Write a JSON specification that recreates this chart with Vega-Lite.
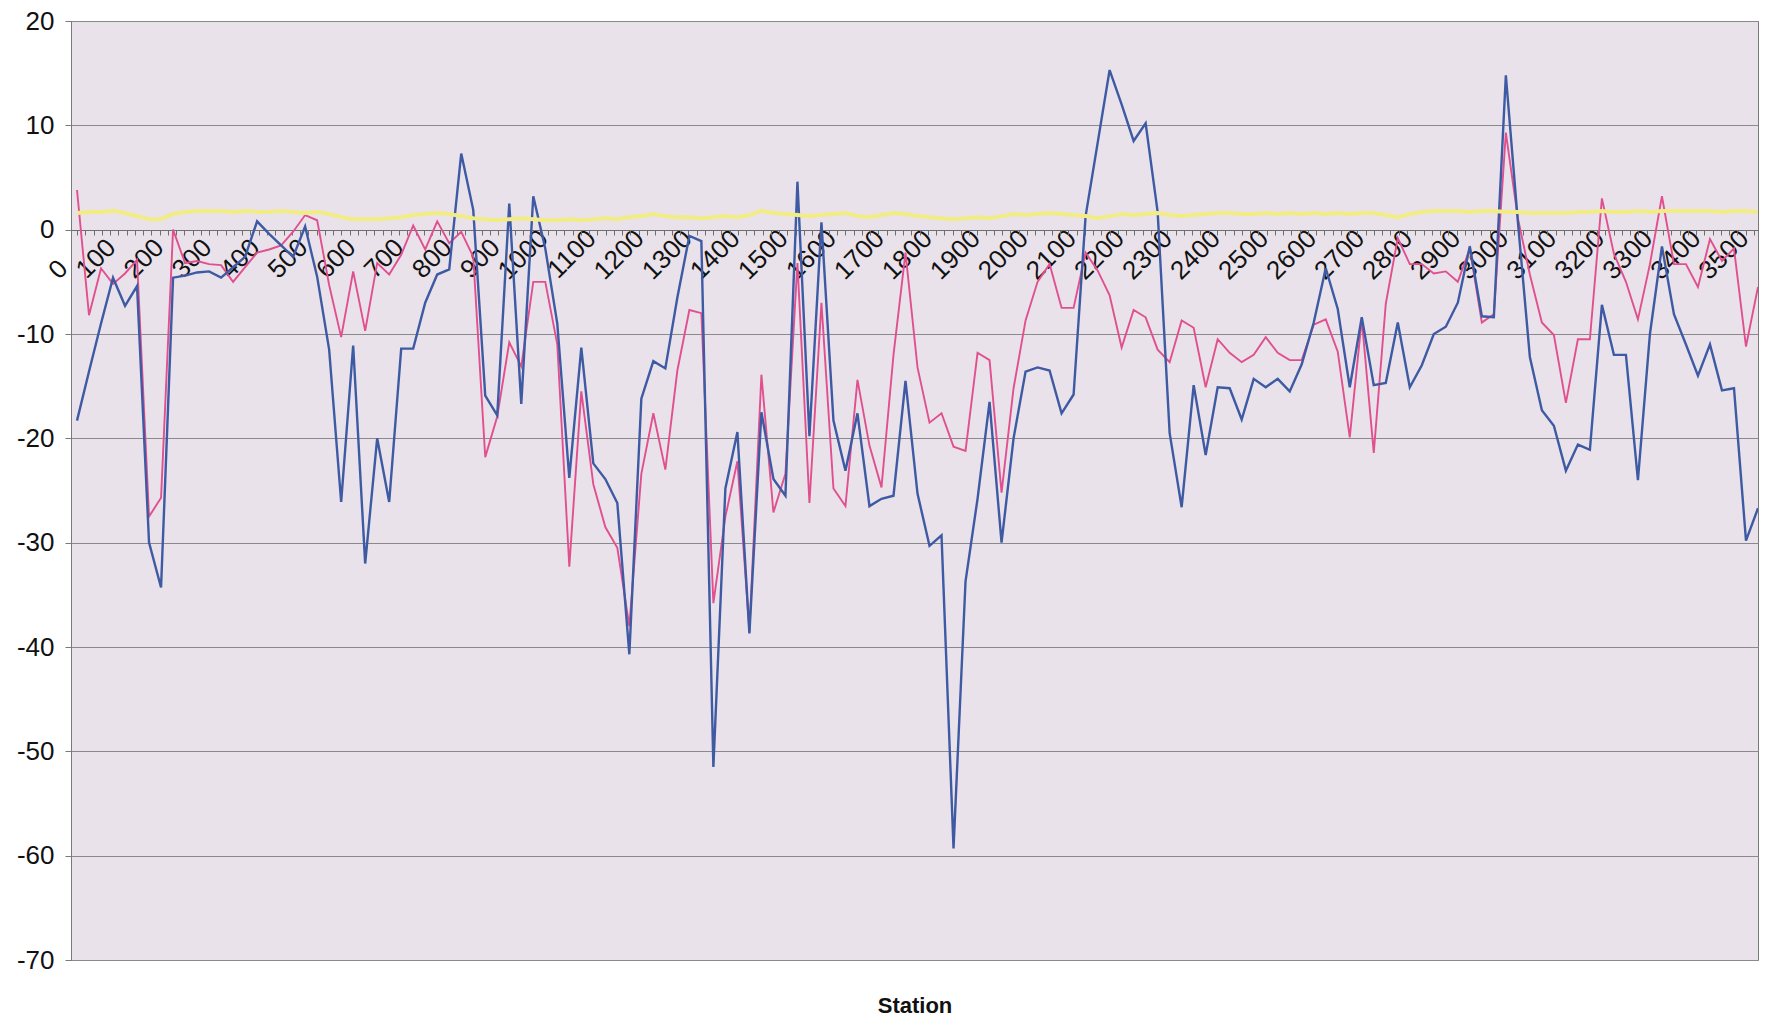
{
  "$schema": "https://vega.github.io/schema/vega-lite/v6.json",
  "width": 1687,
  "height": 939,
  "autosize": {"type": "none"},
  "padding": {"left": 71, "top": 21, "right": 9, "bottom": 62},
  "background": "white",
  "config": {
    "view": {"stroke": "#7a7a7a", "strokeWidth": 1, "fill": "#E9E2EB"},
    "font": "Liberation Sans"
  },
  "data": {"values": [
    {"s":12.5,"b":-18.3,"p":3.8,"y":1.6},{"s":37.5,"b":-13.6,"p":-8.2,"y":1.7},{"s":62.5,"b":-9.0,"p":-3.7,"y":1.7},{"s":87.5,"b":-4.6,"p":-5.2,"y":1.8},
    {"s":112.5,"b":-7.3,"p":-4.2,"y":1.6},{"s":137.5,"b":-5.4,"p":-2.9,"y":1.3},{"s":162.5,"b":-30.0,"p":-27.5,"y":1.0},{"s":187.5,"b":-34.3,"p":-25.7,"y":1.0},
    {"s":212.5,"b":-4.6,"p":0.0,"y":1.5},{"s":237.5,"b":-4.4,"p":-3.2,"y":1.7},{"s":262.5,"b":-4.1,"p":-3.0,"y":1.8},{"s":287.5,"b":-4.0,"p":-3.3,"y":1.8},
    {"s":312.5,"b":-4.6,"p":-3.4,"y":1.8},{"s":337.5,"b":-3.6,"p":-5.0,"y":1.7},{"s":362.5,"b":-2.6,"p":-3.6,"y":1.8},{"s":387.5,"b":0.8,"p":-2.2,"y":1.7},
    {"s":412.5,"b":-0.4,"p":-1.9,"y":1.7},{"s":437.5,"b":-1.5,"p":-1.5,"y":1.8},{"s":462.5,"b":-2.6,"p":-0.2,"y":1.7},{"s":487.5,"b":0.3,"p":1.4,"y":1.6},
    {"s":512.5,"b":-4.5,"p":0.9,"y":1.7},{"s":537.5,"b":-11.5,"p":-5.3,"y":1.5},{"s":562.5,"b":-26.1,"p":-10.3,"y":1.2},{"s":587.5,"b":-11.1,"p":-4.0,"y":1.0},
    {"s":612.5,"b":-32.0,"p":-9.7,"y":1.0},{"s":637.5,"b":-20.0,"p":-3.2,"y":1.0},{"s":662.5,"b":-26.1,"p":-4.3,"y":1.1},{"s":687.5,"b":-11.4,"p":-2.4,"y":1.2},
    {"s":712.5,"b":-11.4,"p":0.4,"y":1.4},{"s":737.5,"b":-7.0,"p":-1.9,"y":1.5},{"s":762.5,"b":-4.3,"p":0.8,"y":1.6},{"s":787.5,"b":-3.8,"p":-1.3,"y":1.5},
    {"s":812.5,"b":7.3,"p":-0.2,"y":1.3},{"s":837.5,"b":1.9,"p":-2.6,"y":1.1},{"s":862.5,"b":-15.9,"p":-21.8,"y":1.0},{"s":887.5,"b":-17.8,"p":-17.9,"y":0.9},
    {"s":912.5,"b":2.5,"p":-10.8,"y":1.0},{"s":937.5,"b":-16.7,"p":-13.1,"y":1.1},{"s":962.5,"b":3.2,"p":-5.0,"y":1.0},{"s":987.5,"b":-1.8,"p":-5.0,"y":0.9},
    {"s":1012.5,"b":-9.0,"p":-11.0,"y":0.9},{"s":1037.5,"b":-23.8,"p":-32.3,"y":1.0},{"s":1062.5,"b":-11.3,"p":-15.5,"y":0.9},{"s":1087.5,"b":-22.4,"p":-24.4,"y":1.0},
    {"s":1112.5,"b":-23.9,"p":-28.5,"y":1.1},{"s":1137.5,"b":-26.2,"p":-30.5,"y":1.0},{"s":1162.5,"b":-40.7,"p":-38.0,"y":1.2},{"s":1187.5,"b":-16.2,"p":-23.4,"y":1.3},
    {"s":1212.5,"b":-12.6,"p":-17.6,"y":1.5},{"s":1237.5,"b":-13.3,"p":-23.0,"y":1.3},{"s":1262.5,"b":-6.5,"p":-13.5,"y":1.2},{"s":1287.5,"b":-0.6,"p":-7.7,"y":1.2},
    {"s":1312.5,"b":-1.1,"p":-8.0,"y":1.1},{"s":1337.5,"b":-51.5,"p":-35.8,"y":1.2},{"s":1362.5,"b":-24.8,"p":-27.5,"y":1.3},{"s":1387.5,"b":-19.4,"p":-22.2,"y":1.2},
    {"s":1412.5,"b":-38.7,"p":-38.5,"y":1.4},{"s":1437.5,"b":-17.5,"p":-13.9,"y":1.8},{"s":1462.5,"b":-23.9,"p":-27.1,"y":1.6},{"s":1487.5,"b":-25.5,"p":-23.4,"y":1.5},
    {"s":1512.5,"b":4.6,"p":-3.2,"y":1.4},{"s":1537.5,"b":-19.8,"p":-26.2,"y":1.3},{"s":1562.5,"b":0.7,"p":-7.0,"y":1.4},{"s":1587.5,"b":-18.3,"p":-24.8,"y":1.5},
    {"s":1612.5,"b":-23.1,"p":-26.5,"y":1.6},{"s":1637.5,"b":-17.6,"p":-14.4,"y":1.3},{"s":1662.5,"b":-26.5,"p":-20.7,"y":1.2},{"s":1687.5,"b":-25.8,"p":-24.7,"y":1.4},
    {"s":1712.5,"b":-25.5,"p":-12.0,"y":1.6},{"s":1737.5,"b":-14.5,"p":-2.2,"y":1.5},{"s":1762.5,"b":-25.3,"p":-13.2,"y":1.3},{"s":1787.5,"b":-30.3,"p":-18.5,"y":1.2},
    {"s":1812.5,"b":-29.3,"p":-17.6,"y":1.1},{"s":1837.5,"b":-59.3,"p":-20.8,"y":1.0},{"s":1862.5,"b":-33.7,"p":-21.2,"y":1.1},{"s":1887.5,"b":-25.8,"p":-11.8,"y":1.2},
    {"s":1912.5,"b":-16.5,"p":-12.5,"y":1.1},{"s":1937.5,"b":-30.0,"p":-25.2,"y":1.3},{"s":1962.5,"b":-20.0,"p":-15.2,"y":1.5},{"s":1987.5,"b":-13.6,"p":-8.7,"y":1.4},
    {"s":2012.5,"b":-13.2,"p":-5.0,"y":1.5},{"s":2037.5,"b":-13.5,"p":-3.3,"y":1.6},{"s":2062.5,"b":-17.6,"p":-7.5,"y":1.5},{"s":2087.5,"b":-15.8,"p":-7.5,"y":1.4},
    {"s":2112.5,"b":1.3,"p":-2.2,"y":1.3},{"s":2137.5,"b":8.3,"p":-3.9,"y":1.1},{"s":2162.5,"b":15.3,"p":-6.3,"y":1.3},{"s":2187.5,"b":12.0,"p":-11.3,"y":1.5},
    {"s":2212.5,"b":8.5,"p":-7.7,"y":1.4},{"s":2237.5,"b":10.2,"p":-8.4,"y":1.5},{"s":2262.5,"b":1.7,"p":-11.5,"y":1.6},{"s":2287.5,"b":-19.5,"p":-12.7,"y":1.4},
    {"s":2312.5,"b":-26.6,"p":-8.7,"y":1.3},{"s":2337.5,"b":-14.9,"p":-9.4,"y":1.4},{"s":2362.5,"b":-21.6,"p":-15.1,"y":1.5},{"s":2387.5,"b":-15.1,"p":-10.5,"y":1.6},
    {"s":2412.5,"b":-15.2,"p":-11.8,"y":1.6},{"s":2437.5,"b":-18.2,"p":-12.7,"y":1.5},{"s":2462.5,"b":-14.3,"p":-12.0,"y":1.5},{"s":2487.5,"b":-15.1,"p":-10.3,"y":1.6},
    {"s":2512.5,"b":-14.3,"p":-11.8,"y":1.5},{"s":2537.5,"b":-15.5,"p":-12.5,"y":1.6},{"s":2562.5,"b":-12.9,"p":-12.5,"y":1.5},{"s":2587.5,"b":-8.9,"p":-9.1,"y":1.6},
    {"s":2612.5,"b":-3.7,"p":-8.6,"y":1.5},{"s":2637.5,"b":-7.6,"p":-11.7,"y":1.6},{"s":2662.5,"b":-15.1,"p":-19.9,"y":1.5},{"s":2687.5,"b":-8.4,"p":-8.6,"y":1.6},
    {"s":2712.5,"b":-14.9,"p":-21.4,"y":1.6},{"s":2737.5,"b":-14.7,"p":-7.1,"y":1.4},{"s":2762.5,"b":-8.9,"p":-0.8,"y":1.2},{"s":2787.5,"b":-15.1,"p":-3.3,"y":1.5},
    {"s":2812.5,"b":-13.0,"p":-3.3,"y":1.7},{"s":2837.5,"b":-10.0,"p":-4.2,"y":1.8},{"s":2862.5,"b":-9.3,"p":-4.0,"y":1.8},{"s":2887.5,"b":-7.0,"p":-5.0,"y":1.8},
    {"s":2912.5,"b":-1.6,"p":-1.8,"y":1.7},{"s":2937.5,"b":-8.3,"p":-8.9,"y":1.8},{"s":2962.5,"b":-8.4,"p":-8.1,"y":1.8},{"s":2987.5,"b":14.8,"p":9.3,"y":1.7},
    {"s":3012.5,"b":0.8,"p":1.1,"y":1.7},{"s":3037.5,"b":-12.2,"p":-4.3,"y":1.6},{"s":3062.5,"b":-17.3,"p":-8.9,"y":1.6},{"s":3087.5,"b":-18.8,"p":-10.1,"y":1.6},
    {"s":3112.5,"b":-23.1,"p":-16.6,"y":1.6},{"s":3137.5,"b":-20.6,"p":-10.5,"y":1.7},{"s":3162.5,"b":-21.1,"p":-10.5,"y":1.7},{"s":3187.5,"b":-7.2,"p":3.0,"y":1.8},
    {"s":3212.5,"b":-12.0,"p":-2.3,"y":1.7},{"s":3237.5,"b":-12.0,"p":-5.0,"y":1.7},{"s":3262.5,"b":-24.0,"p":-8.6,"y":1.8},{"s":3287.5,"b":-10.0,"p":-3.3,"y":1.7},
    {"s":3312.5,"b":-1.6,"p":3.2,"y":1.8},{"s":3337.5,"b":-8.1,"p":-3.3,"y":1.8},{"s":3362.5,"b":-11.0,"p":-3.3,"y":1.8},{"s":3387.5,"b":-14.0,"p":-5.5,"y":1.8},
    {"s":3412.5,"b":-11.0,"p":-0.9,"y":1.8},{"s":3437.5,"b":-15.4,"p":-3.0,"y":1.7},{"s":3462.5,"b":-15.2,"p":-1.8,"y":1.8},{"s":3487.5,"b":-29.8,"p":-11.2,"y":1.8},
    {"s":3512.5,"b":-26.7,"p":-5.5,"y":1.7}
  ]},
  "layer": [
    {
      "transform": [{"fold": ["p", "b"], "as": ["series", "val"]}],
      "mark": {"type": "line", "clip": true},
      "encoding": {
        "x": {
          "field": "s", "type": "quantitative",
          "scale": {"domain": [0, 3512.5], "nice": false, "zero": false},
          "axis": {
            "orient": "bottom", "offset": -730,
            "values": [0,100,200,300,400,500,600,700,800,900,1000,1100,1200,1300,1400,1500,1600,1700,1800,1900,2000,2100,2200,2300,2400,2500,2600,2700,2800,2900,3000,3100,3200,3300,3400,3500],
            "labelExpr": "datum.value + ''",
            "labelAngle": -45, "labelAlign": "right", "labelBaseline": "middle",
            "labelFontSize": 26, "labelColor": "#111111",
            "labelPadding": {"condition": [{"test": "datum.value < 50", "value": 34}, {"test": "datum.value >= 1000", "value": 4}], "value": 13},
            "labelOffset": -8,
            "labelOverlap": false, "labelFlush": false, "labelBound": false,
            "ticks": false, "grid": false,
            "domain": true, "domainColor": "#6e6e6e", "domainWidth": 1.2,
            "title": "Station", "titleFontSize": 22, "titleFontWeight": "bold",
            "titleColor": "#111111", "titleY": 775, "titleBaseline": "middle"
          }
        },
        "y": {
          "field": "val", "type": "quantitative",
          "scale": {"domain": [-70, 20], "nice": false},
          "axis": {
            "values": [-70,-60,-50,-40,-30,-20,-10,0,10,20],
            "labelExpr": "datum.value + ''",
            "grid": true, "gridColor": "#8a8a8a", "gridWidth": 1,
            "domain": true, "domainColor": "#7a7a7a",
            "ticks": true, "tickSize": 6, "tickColor": "#7a7a7a",
            "labelFontSize": 26, "labelColor": "#111111", "labelPadding": 11,
            "title": null
          }
        },
        "color": {
          "field": "series", "type": "nominal",
          "scale": {"domain": ["p", "b"], "range": ["#E1508E", "#3D5AA3"]},
          "legend": null
        },
        "strokeWidth": {
          "field": "series", "type": "nominal",
          "scale": {"domain": ["p", "b"], "range": [1.9, 2.4]},
          "legend": null
        }
      }
    },
    {
      "mark": {"type": "line", "color": "#F2EC84", "strokeWidth": 4, "clip": true},
      "encoding": {
        "x": {
          "field": "s", "type": "quantitative",
          "scale": {"domain": [0, 3512.5], "nice": false, "zero": false},
          "axis": {
            "orient": "bottom", "offset": -730,
            "values": [12.5,29.7,46.9,64.1,81.3,98.5,115.7,132.9,150.1,167.3,184.5,201.7,218.9,236.1,253.3,270.5,287.7,304.9,322.1,339.3,356.5,373.7,390.9,408.1,425.3,442.5,459.7,476.9,494.1,511.3,528.5,545.7,562.9,580.1,597.3,614.5,631.7,648.9,666.1,683.3,700.5,717.7,734.9,752.1,769.3,786.5,803.7,820.9,838.1,855.3,872.5,889.7,906.9,924.1,941.3,958.5,975.7,992.9,1010.1,1027.3,1044.5,1061.7,1078.9,1096.1,1113.3,1130.5,1147.7,1164.9,1182.1,1199.3,1216.5,1233.7,1250.9,1268.1,1285.3,1302.5,1319.7,1336.9,1354.1,1371.3,1388.5,1405.7,1422.9,1440.1,1457.3,1474.5,1491.7,1508.9,1526.1,1543.3,1560.5,1577.7,1594.9,1612.1,1629.3,1646.5,1663.7,1680.9,1698.1,1715.3,1732.5,1749.7,1766.9,1784.1,1801.3,1818.5,1835.7,1852.9,1870.1,1887.3,1904.5,1921.7,1938.9,1956.1,1973.3,1990.5,2007.7,2024.9,2042.1,2059.3,2076.5,2093.7,2110.9,2128.1,2145.3,2162.5,2179.7,2196.9,2214.1,2231.3,2248.5,2265.7,2282.9,2300.1,2317.3,2334.5,2351.7,2368.9,2386.1,2403.3,2420.5,2437.7,2454.9,2472.1,2489.3,2506.5,2523.7,2540.9,2558.1,2575.3,2592.5,2609.7,2626.9,2644.1,2661.3,2678.5,2695.7,2712.9,2730.1,2747.3,2764.5,2781.7,2798.9,2816.1,2833.3,2850.5,2867.7,2884.9,2902.1,2919.3,2936.5,2953.7,2970.9,2988.1,3005.3,3022.5,3039.7,3056.9,3074.1,3091.3,3108.5,3125.7,3142.9,3160.1,3177.3,3194.5,3211.7,3228.9,3246.1,3263.3,3280.5,3297.7,3314.9,3332.1,3349.3,3366.5,3383.7,3400.9,3418.1,3435.3,3452.5,3469.7,3486.9,3504.1],
            "labels": false, "domain": false, "grid": false,
            "ticks": true, "tickSize": 5, "tickColor": "#6e6e6e", "tickWidth": 1,
            "title": null
          }
        },
        "y": {
          "field": "y", "type": "quantitative",
          "scale": {"domain": [-70, 20], "nice": false},
          "axis": {
            "values": [-70,-60,-50,-40,-30,-20,-10,0,10,20],
            "labelExpr": "datum.value + ''",
            "grid": true, "gridColor": "#8a8a8a", "gridWidth": 1,
            "domain": true, "domainColor": "#7a7a7a",
            "ticks": true, "tickSize": 6, "tickColor": "#7a7a7a",
            "labelFontSize": 26, "labelColor": "#111111", "labelPadding": 11,
            "title": null
          }
        }
      }
    }
  ],
  "resolve": {"axis": {"x": "independent"}}
}
